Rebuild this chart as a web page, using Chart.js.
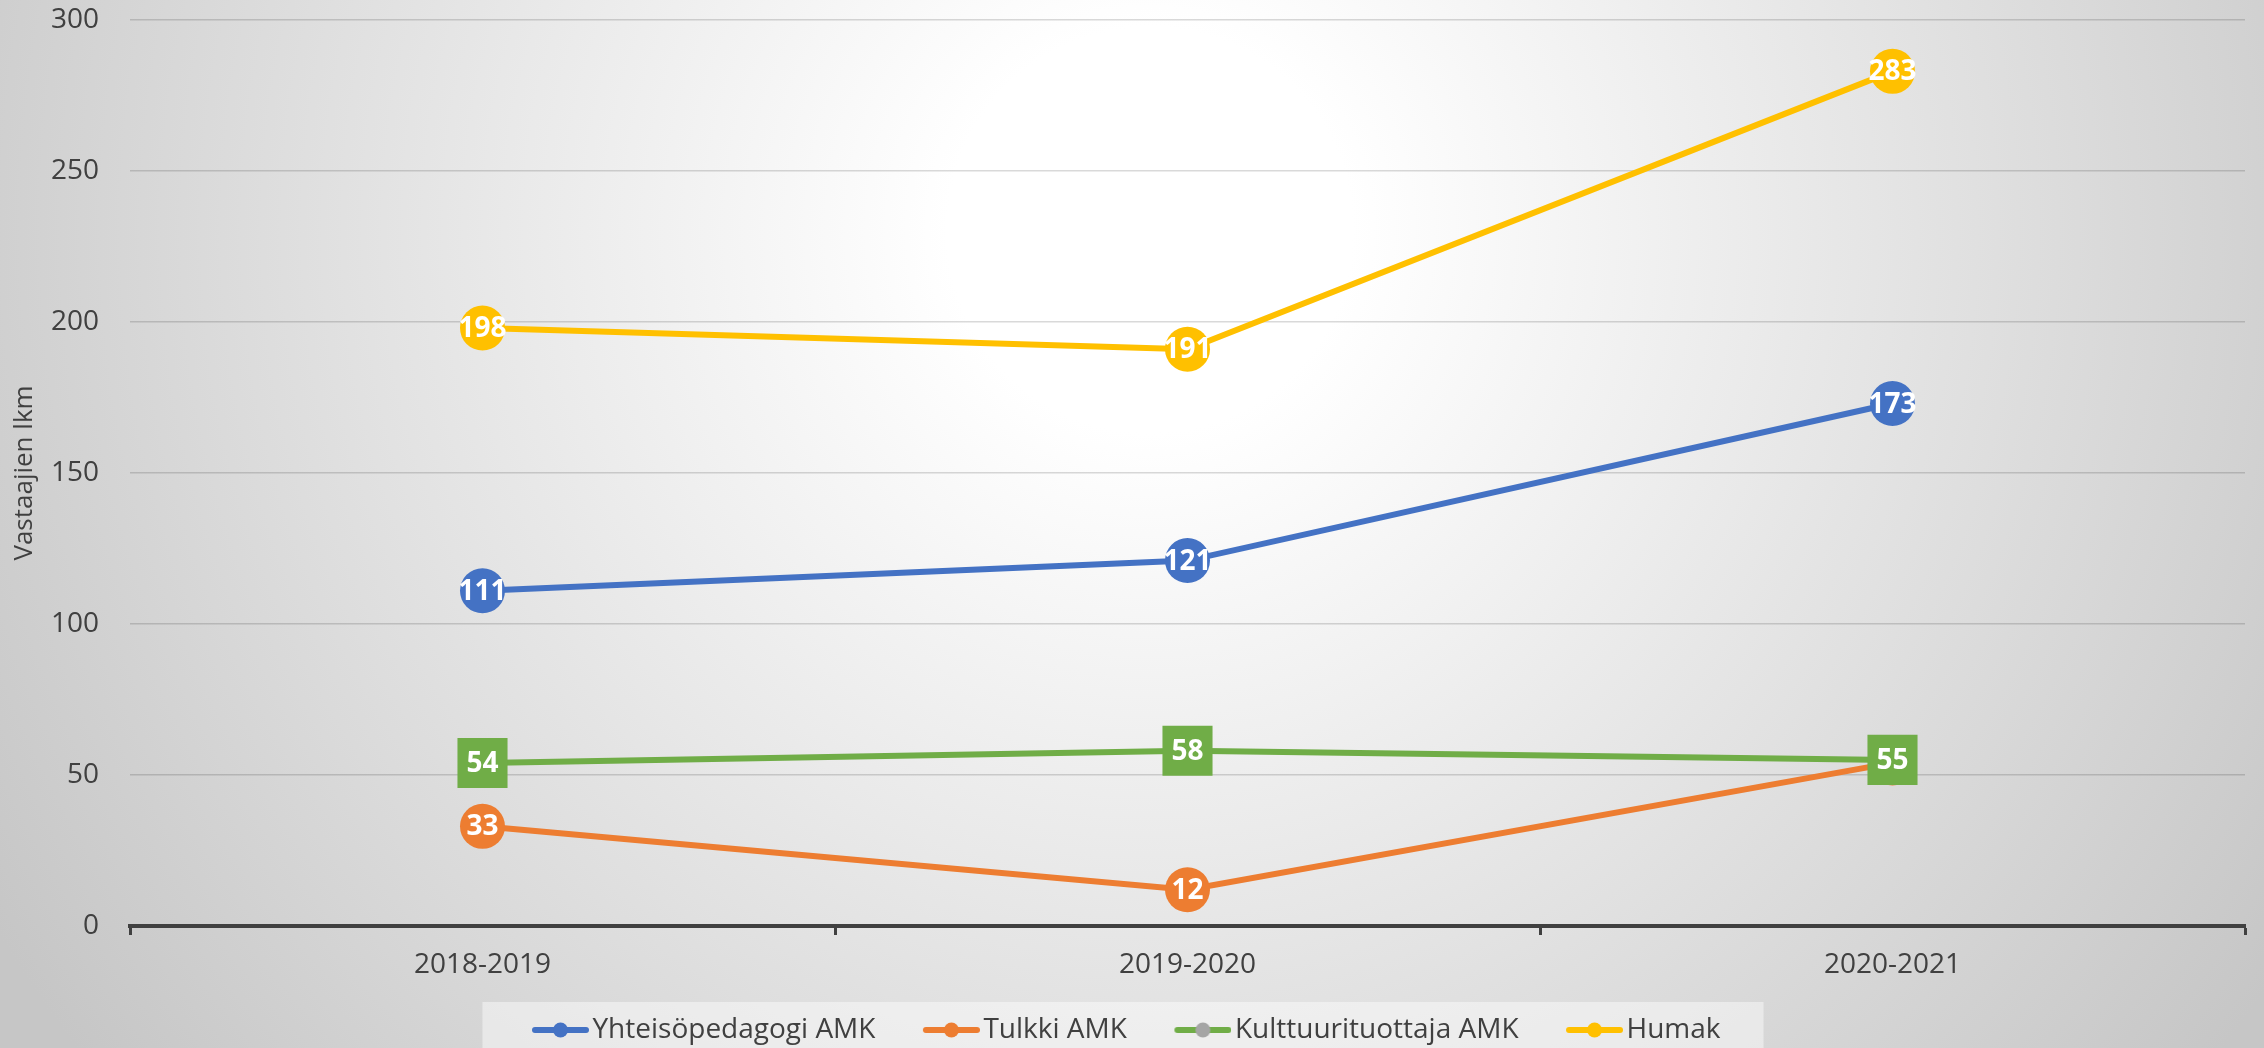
<!DOCTYPE html>
<html>
<head>
<meta charset="utf-8">
<script src="https://cdn.jsdelivr.net/npm/chart.js@4/dist/chart.umd.min.js"></script>
<style>
  html, body { margin: 0; padding: 0; overflow: hidden; }
  #wrap { width: 2264px; height: 1048px; position: relative; }
</style>
</head>
<body>
<div id="wrap"><canvas id="chart"></canvas></div>
<script>
// data
var categories = ['2018-2019', '2019-2020', '2020-2021'];
var seriesNames = ['Yhteisöpedagogi AMK', 'Tulkki AMK', 'Kulttuurituottaja AMK', 'Humak'];
var yhteisopedagogi = [111, 121, 173];
var tulkki = [33, 12, 54];
var kulttuurituottaja = [54, 58, 55];
var humak = [198, 191, 283];
var yMin = 0, yMax = 300, yStep = 50;

var FONT = "'Open Sans', 'Liberation Sans', sans-serif";
var TEXT = '#404040';

// legend symbol: transparent room on the left, then line + dot ending next to the text
var SYM_BOX = 82;
function legendSymbol(lineColor, dotColor) {
    var c = document.createElement('canvas');
    c.width = SYM_BOX + 21;
    c.height = 16;
    var g = c.getContext('2d');
    var x0 = c.width - 57;
    g.strokeStyle = lineColor;
    g.lineWidth = 6;
    g.lineCap = 'round';
    g.beginPath();
    g.moveTo(x0 + 3, 8);
    g.lineTo(x0 + 54, 8);
    g.stroke();
    g.fillStyle = dotColor;
    g.beginPath();
    g.arc(x0 + 28.5, 8, 7.5, 0, Math.PI * 2);
    g.fill();
    return c;
}

var backgroundPlugin = {
    id: 'background',
    afterLayout: function(chart) {
        // the legend sits a bit left of the canvas centre in the original
        chart.legend.left -= 14;
        chart.legend.right -= 14;
    },
    beforeDraw: function(chart) {
        var ctx = chart.ctx;
        var w = chart.width, h = chart.height;
        ctx.save();
        var grad = ctx.createRadialGradient(1150, 230, 0, 1150, 230, 1350);
        grad.addColorStop(0, '#ffffff');
        grad.addColorStop(0.15, '#ffffff');
        grad.addColorStop(1, '#c6c6c6');
        ctx.fillStyle = grad;
        ctx.fillRect(0, 0, w, h);
        // lighter box behind the legend
        var boxes = chart.legend.legendHitBoxes;
        if (boxes && boxes.length) {
            var first = boxes[0], last = boxes[boxes.length - 1];
            var x0 = first.left + SYM_BOX + 10 - 57 - 49;
            var x1 = last.left + last.width + 43;
            var y0 = first.top - 14;
            ctx.fillStyle = 'rgba(255,255,255,0.45)';
            ctx.fillRect(x0, y0, x1 - x0, h - y0);
        }
        ctx.restore();
    }
};

// value labels drawn right after each dataset, so later series cover earlier ones
var valueLabels = {
    id: 'valueLabels',
    afterDatasetDraw: function(chart, args) {
        var ctx = chart.ctx;
        var ds = chart.data.datasets[args.index];
        ctx.save();
        ctx.font = 'bold 28px ' + FONT;
        ctx.fillStyle = '#ffffff';
        ctx.textAlign = 'center';
        ctx.textBaseline = 'middle';
        args.meta.data.forEach(function(pt, i) {
            ctx.fillText(String(ds.data[i]), pt.x, pt.y + 1);
        });
        ctx.restore();
    }
};

var colors = ['#4472C4', '#ED7D31', '#70AD47', '#FFC000'];
var legendDots = ['#4472C4', '#ED7D31', '#A5A5A5', '#FFC000'];

function makeSet(label, data, color, order, style, radius) {
    return {
        label: label,
        data: data,
        borderColor: color,
        backgroundColor: color,
        borderWidth: 6,
        pointStyle: style,
        pointRadius: radius,
        pointHoverRadius: radius,
        pointBorderWidth: 0,
        pointBackgroundColor: color,
        tension: 0,
        fill: false,
        clip: false,
        order: order
    };
}

var ctx = document.getElementById('chart').getContext('2d');
var myChart = new Chart(ctx, {
    type: 'line',
    plugins: [backgroundPlugin, valueLabels],
    data: {
        labels: categories,
        datasets: [
            makeSet(seriesNames[0], yhteisopedagogi, colors[0], 4, 'circle', 22.5),
            makeSet(seriesNames[1], tulkki, colors[1], 3, 'circle', 22.5),
            makeSet(seriesNames[2], kulttuurituottaja, colors[2], 2, 'rect', 35.4),
            makeSet(seriesNames[3], humak, colors[3], 1, 'circle', 22.5)
        ]
    },
    options: {
        responsive: true,
        maintainAspectRatio: false,
        animation: false,
        events: [],
        layout: {
            autoPadding: false,
            padding: { top: 20, right: 19, bottom: -6, left: 0 }
        },
        plugins: {
            tooltip: { enabled: false },
            title: { display: false },
            legend: {
                position: 'bottom',
                labels: {
                    usePointStyle: true,
                    pointStyleWidth: SYM_BOX,
                    padding: 12,
                    color: TEXT,
                    font: { family: FONT, size: 28 },
                    generateLabels: function(chart) {
                        return chart.data.datasets.map(function(ds, i) {
                            return {
                                text: ds.label,
                                fillStyle: colors[i],
                                strokeStyle: colors[i],
                                lineWidth: 0,
                                hidden: false,
                                datasetIndex: i,
                                fontColor: TEXT,
                                pointStyle: legendSymbol(colors[i], legendDots[i])
                            };
                        });
                    }
                }
            }
        },
        scales: {
            x: {
                offset: true,
                afterFit: function(scale) { scale.height = 78; },
                grid: {
                    offset: true,
                    drawOnChartArea: false,
                    drawTicks: true,
                    tickLength: 9,
                    tickWidth: 3,
                    tickColor: TEXT
                },
                border: { display: true, color: TEXT, width: 4 },
                ticks: {
                    color: TEXT,
                    padding: 13,
                    maxRotation: 0,
                    font: { family: FONT, size: 28 }
                }
            },
            y: {
                min: yMin,
                max: yMax,
                afterFit: function(scale) {
                    scale.width = 130;
                    scale.paddingTop = 0;
                    scale.paddingBottom = 0;
                },
                grid: {
                    color: 'rgba(0,0,0,0.15)',
                    lineWidth: 1.5,
                    drawTicks: false
                },
                border: { display: false },
                ticks: {
                    stepSize: yStep,
                    color: TEXT,
                    padding: 31,
                    font: { family: FONT, size: 28 }
                },
                title: {
                    display: true,
                    text: 'Vastaajien lkm',
                    color: TEXT,
                    font: { family: FONT, size: 26 },
                    padding: { top: 9, bottom: 0 }
                }
            }
        }
    }
});
</script>
</body>
</html>
